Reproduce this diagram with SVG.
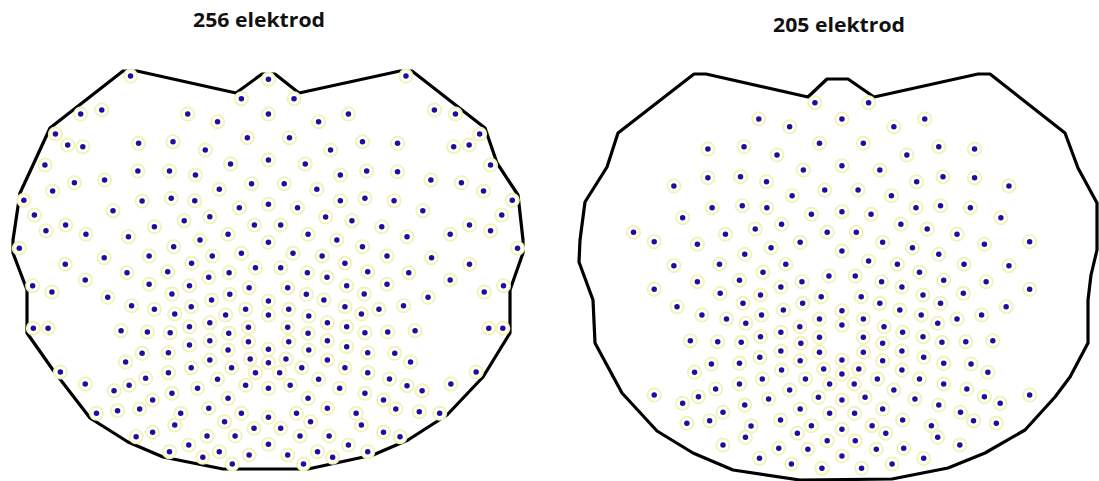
<svg xmlns="http://www.w3.org/2000/svg" xmlns:xlink="http://www.w3.org/1999/xlink" width="1099" height="481" viewBox="0 0 1099 481">
<style>
.t{font-family:"Open Sans","Liberation Sans",sans-serif;font-weight:bold;font-size:20px;fill:#111}
.o{fill:none;stroke:#000;stroke-width:3.2;stroke-linejoin:round}
.h{fill:#fefef2;stroke:#f1f1bd;stroke-width:5}
.b{fill:#1c0ea0}
</style>
<defs>
<g id="e"><ellipse rx="19" ry="20" class="h"/><ellipse rx="7.8" ry="8.2" class="b"/></g>
</defs>
<rect width="1099" height="481" fill="#fff"/>
<text class="t" x="193" y="26.5" textLength="132" lengthAdjust="spacingAndGlyphs">256 elektrod</text>
<text class="t" x="773" y="31.5" textLength="132" lengthAdjust="spacingAndGlyphs">205 elektrod</text>
<polygon id="outline-256" class="o" points="123,71 137,71 236,93 262,74 275,74 299,93 400,71 412,71 485,128 497,163 518,195 523,240 523,253 510,290 510,333 483,377 447,415 408,440 373,455 308,469 223,469 163,457 128,442 90,418 53,370 27,333 27,290 13,253 13,240 20,193 33,165 50,128"/>
<polygon id="outline-205" class="o" points="694,74 706,74 808,97 827,79 848,79 874,97 978,74 990,74 1065,133 1078,168 1097,203 1097,250 1091,275 1088,300 1088,343 1070,377 1055,397 1025,430 985,453 948,468 892,479 800,480 733,470 693,453 657,431 622,393 595,343 593,300 579,262 580,240 585,202 607,167 618,133"/>
<g id="electrodes-256" transform="scale(0.35088 0.33333)">
<use href="#e" x="372" y="228"/><use href="#e" x="765" y="238"/><use href="#e" x="1157" y="228"/>
<use href="#e" x="688" y="296"/><use href="#e" x="838" y="296"/>
<use href="#e" x="290" y="330"/><use href="#e" x="230" y="342"/><use href="#e" x="535" y="342"/><use href="#e" x="620" y="365"/><use href="#e" x="765" y="342"/><use href="#e" x="908" y="365"/><use href="#e" x="993" y="342"/><use href="#e" x="1238" y="330"/><use href="#e" x="1298" y="342"/>
<use href="#e" x="158" y="402"/><use href="#e" x="1367" y="402"/><use href="#e" x="193" y="435"/><use href="#e" x="236" y="440"/><use href="#e" x="395" y="430"/><use href="#e" x="493" y="425"/><use href="#e" x="585" y="450"/><use href="#e" x="705" y="413"/><use href="#e" x="825" y="413"/><use href="#e" x="942" y="450"/><use href="#e" x="1033" y="425"/><use href="#e" x="1133" y="430"/><use href="#e" x="1293" y="440"/><use href="#e" x="1337" y="435"/>
<use href="#e" x="128" y="495"/><use href="#e" x="1398" y="495"/><use href="#e" x="657" y="492"/><use href="#e" x="765" y="480"/><use href="#e" x="870" y="492"/><use href="#e" x="393" y="513"/><use href="#e" x="483" y="513"/><use href="#e" x="557" y="525"/><use href="#e" x="970" y="525"/><use href="#e" x="1045" y="513"/><use href="#e" x="1133" y="515"/>
<use href="#e" x="212" y="548"/><use href="#e" x="298" y="540"/><use href="#e" x="150" y="573"/><use href="#e" x="717" y="551"/><use href="#e" x="810" y="551"/><use href="#e" x="625" y="568"/><use href="#e" x="903" y="568"/><use href="#e" x="1228" y="540"/><use href="#e" x="1315" y="548"/><use href="#e" x="1378" y="573"/>
<use href="#e" x="68" y="601"/><use href="#e" x="1460" y="601"/><use href="#e" x="405" y="603"/><use href="#e" x="488" y="595"/><use href="#e" x="555" y="602"/><use href="#e" x="682" y="623"/><use href="#e" x="765" y="613"/><use href="#e" x="848" y="623"/><use href="#e" x="970" y="602"/><use href="#e" x="1040" y="595"/><use href="#e" x="1123" y="602"/><use href="#e" x="322" y="632"/><use href="#e" x="1205" y="632"/><use href="#e" x="98" y="645"/><use href="#e" x="1430" y="645"/><use href="#e" x="598" y="650"/>
<use href="#e" x="187" y="675"/><use href="#e" x="131" y="692"/><use href="#e" x="245" y="703"/><use href="#e" x="525" y="662"/><use href="#e" x="440" y="680"/><use href="#e" x="725" y="675"/><use href="#e" x="800" y="675"/><use href="#e" x="928" y="651"/><use href="#e" x="1003" y="662"/><use href="#e" x="1088" y="680"/><use href="#e" x="1338" y="675"/><use href="#e" x="1398" y="692"/><use href="#e" x="1283" y="703"/><use href="#e" x="366" y="710"/><use href="#e" x="650" y="703"/><use href="#e" x="878" y="703"/><use href="#e" x="1160" y="710"/><use href="#e" x="570" y="720"/><use href="#e" x="960" y="720"/>
<use href="#e" x="55" y="745"/><use href="#e" x="1475" y="745"/><use href="#e" x="495" y="740"/><use href="#e" x="765" y="727"/><use href="#e" x="1033" y="740"/><use href="#e" x="297" y="773"/><use href="#e" x="425" y="768"/><use href="#e" x="605" y="768"/><use href="#e" x="688" y="760"/><use href="#e" x="835" y="760"/><use href="#e" x="918" y="768"/><use href="#e" x="1103" y="768"/><use href="#e" x="1230" y="773"/><use href="#e" x="546" y="790"/><use href="#e" x="983" y="790"/>
<use href="#e" x="186" y="793"/><use href="#e" x="1338" y="793"/><use href="#e" x="728" y="803"/><use href="#e" x="800" y="803"/><use href="#e" x="362" y="818"/><use href="#e" x="478" y="815"/><use href="#e" x="595" y="832"/><use href="#e" x="653" y="818"/><use href="#e" x="876" y="818"/><use href="#e" x="932" y="832"/><use href="#e" x="1048" y="815"/><use href="#e" x="1165" y="818"/><use href="#e" x="243" y="840"/><use href="#e" x="1283" y="840"/>
<use href="#e" x="93" y="857"/><use href="#e" x="148" y="876"/><use href="#e" x="1380" y="876"/><use href="#e" x="1435" y="857"/><use href="#e" x="425" y="853"/><use href="#e" x="540" y="857"/><use href="#e" x="710" y="863"/><use href="#e" x="820" y="863"/><use href="#e" x="988" y="857"/><use href="#e" x="1103" y="853"/><use href="#e" x="490" y="882"/><use href="#e" x="655" y="883"/><use href="#e" x="873" y="883"/><use href="#e" x="1038" y="882"/><use href="#e" x="307" y="892"/><use href="#e" x="1220" y="892"/><use href="#e" x="765" y="903"/><use href="#e" x="603" y="900"/><use href="#e" x="923" y="900"/>
<use href="#e" x="375" y="917"/><use href="#e" x="440" y="928"/><use href="#e" x="545" y="920"/><use href="#e" x="700" y="928"/><use href="#e" x="823" y="928"/><use href="#e" x="983" y="920"/><use href="#e" x="1080" y="928"/><use href="#e" x="1150" y="917"/><use href="#e" x="498" y="942"/><use href="#e" x="643" y="945"/><use href="#e" x="765" y="945"/><use href="#e" x="880" y="948"/><use href="#e" x="1030" y="942"/>
<use href="#e" x="598" y="968"/><use href="#e" x="708" y="982"/><use href="#e" x="820" y="982"/><use href="#e" x="933" y="968"/><use href="#e" x="540" y="980"/><use href="#e" x="988" y="980"/><use href="#e" x="345" y="992"/><use href="#e" x="420" y="996"/><use href="#e" x="485" y="998"/><use href="#e" x="1040" y="998"/><use href="#e" x="1105" y="996"/><use href="#e" x="1183" y="992"/><use href="#e" x="95" y="985"/><use href="#e" x="137" y="985"/><use href="#e" x="1393" y="985"/><use href="#e" x="1433" y="985"/><use href="#e" x="652" y="1000"/><use href="#e" x="878" y="1000"/>
<use href="#e" x="598" y="1022"/><use href="#e" x="708" y="1025"/><use href="#e" x="823" y="1025"/><use href="#e" x="933" y="1022"/><use href="#e" x="540" y="1035"/><use href="#e" x="988" y="1040"/><use href="#e" x="480" y="1058"/><use href="#e" x="650" y="1050"/><use href="#e" x="765" y="1048"/><use href="#e" x="880" y="1050"/><use href="#e" x="1048" y="1058"/><use href="#e" x="405" y="1060"/><use href="#e" x="1125" y="1060"/>
<use href="#e" x="358" y="1086"/><use href="#e" x="1170" y="1086"/><use href="#e" x="598" y="1080"/><use href="#e" x="713" y="1077"/><use href="#e" x="765" y="1088"/><use href="#e" x="815" y="1077"/><use href="#e" x="933" y="1080"/><use href="#e" x="545" y="1103"/><use href="#e" x="660" y="1103"/><use href="#e" x="860" y="1103"/><use href="#e" x="983" y="1103"/><use href="#e" x="480" y="1118"/><use href="#e" x="728" y="1118"/><use href="#e" x="797" y="1118"/><use href="#e" x="1048" y="1118"/><use href="#e" x="172" y="1116"/><use href="#e" x="1357" y="1116"/>
<use href="#e" x="415" y="1135"/><use href="#e" x="620" y="1138"/><use href="#e" x="908" y="1138"/><use href="#e" x="1110" y="1137"/><use href="#e" x="368" y="1156"/><use href="#e" x="243" y="1152"/><use href="#e" x="1160" y="1157"/><use href="#e" x="1285" y="1152"/><use href="#e" x="563" y="1165"/><use href="#e" x="700" y="1156"/><use href="#e" x="765" y="1165"/><use href="#e" x="827" y="1156"/><use href="#e" x="968" y="1165"/><use href="#e" x="325" y="1172"/><use href="#e" x="490" y="1180"/><use href="#e" x="1040" y="1180"/><use href="#e" x="1203" y="1172"/>
<use href="#e" x="435" y="1200"/><use href="#e" x="650" y="1195"/><use href="#e" x="878" y="1195"/><use href="#e" x="1093" y="1200"/><use href="#e" x="335" y="1232"/><use href="#e" x="398" y="1227"/><use href="#e" x="595" y="1225"/><use href="#e" x="933" y="1225"/><use href="#e" x="1128" y="1227"/><use href="#e" x="1195" y="1235"/><use href="#e" x="275" y="1240"/><use href="#e" x="1253" y="1240"/><use href="#e" x="515" y="1240"/><use href="#e" x="765" y="1252"/><use href="#e" x="688" y="1240"/><use href="#e" x="845" y="1240"/><use href="#e" x="1015" y="1240"/>
<use href="#e" x="498" y="1275"/><use href="#e" x="640" y="1265"/><use href="#e" x="885" y="1265"/><use href="#e" x="1030" y="1275"/><use href="#e" x="388" y="1310"/><use href="#e" x="435" y="1297"/><use href="#e" x="590" y="1308"/><use href="#e" x="670" y="1308"/><use href="#e" x="724" y="1285"/><use href="#e" x="800" y="1285"/><use href="#e" x="855" y="1308"/><use href="#e" x="938" y="1308"/><use href="#e" x="1093" y="1297"/><use href="#e" x="1140" y="1310"/>
<use href="#e" x="538" y="1335"/><use href="#e" x="765" y="1333"/><use href="#e" x="993" y="1335"/><use href="#e" x="483" y="1355"/><use href="#e" x="625" y="1355"/><use href="#e" x="710" y="1365"/><use href="#e" x="820" y="1365"/><use href="#e" x="905" y="1355"/><use href="#e" x="1048" y="1355"/><use href="#e" x="578" y="1372"/><use href="#e" x="948" y="1372"/><use href="#e" x="662" y="1392"/><use href="#e" x="865" y="1392"/>
</g>
<g id="electrodes-205" transform="translate(550 0) scale(0.35088 0.33333)">
<use href="#e" x="755" y="308"/><use href="#e" x="908" y="308"/>
<use href="#e" x="595" y="357"/><use href="#e" x="832" y="357"/><use href="#e" x="1068" y="357"/><use href="#e" x="683" y="380"/><use href="#e" x="980" y="380"/>
<use href="#e" x="768" y="430"/><use href="#e" x="893" y="430"/><use href="#e" x="450" y="447"/><use href="#e" x="553" y="440"/><use href="#e" x="1108" y="440"/><use href="#e" x="1210" y="447"/><use href="#e" x="647" y="465"/><use href="#e" x="1017" y="465"/>
<use href="#e" x="832" y="497"/><use href="#e" x="722" y="510"/><use href="#e" x="940" y="510"/><use href="#e" x="450" y="533"/><use href="#e" x="543" y="530"/><use href="#e" x="617" y="545"/><use href="#e" x="1045" y="545"/><use href="#e" x="1120" y="530"/><use href="#e" x="1210" y="533"/><use href="#e" x="353" y="558"/><use href="#e" x="1308" y="558"/>
<use href="#e" x="783" y="570"/><use href="#e" x="878" y="570"/><use href="#e" x="690" y="587"/><use href="#e" x="973" y="587"/>
<use href="#e" x="462" y="623"/><use href="#e" x="548" y="617"/><use href="#e" x="618" y="623"/><use href="#e" x="832" y="635"/><use href="#e" x="745" y="643"/><use href="#e" x="915" y="643"/><use href="#e" x="1043" y="623"/><use href="#e" x="1113" y="617"/><use href="#e" x="1198" y="623"/><use href="#e" x="378" y="653"/><use href="#e" x="1285" y="653"/>
<use href="#e" x="660" y="673"/><use href="#e" x="1000" y="673"/><use href="#e" x="585" y="687"/><use href="#e" x="1075" y="687"/><use href="#e" x="500" y="703"/><use href="#e" x="790" y="697"/><use href="#e" x="873" y="697"/><use href="#e" x="1160" y="703"/><use href="#e" x="238" y="697"/>
<use href="#e" x="297" y="725"/><use href="#e" x="420" y="733"/><use href="#e" x="713" y="727"/><use href="#e" x="948" y="727"/><use href="#e" x="1238" y="733"/><use href="#e" x="1367" y="725"/><use href="#e" x="630" y="743"/><use href="#e" x="1033" y="743"/><use href="#e" x="555" y="763"/><use href="#e" x="832" y="753"/><use href="#e" x="1108" y="763"/>
<use href="#e" x="353" y="797"/><use href="#e" x="483" y="793"/><use href="#e" x="672" y="793"/><use href="#e" x="908" y="783"/><use href="#e" x="990" y="793"/><use href="#e" x="1180" y="793"/><use href="#e" x="1308" y="797"/><use href="#e" x="607" y="817"/><use href="#e" x="1053" y="817"/>
<use href="#e" x="795" y="828"/><use href="#e" x="870" y="828"/><use href="#e" x="540" y="841"/><use href="#e" x="420" y="845"/><use href="#e" x="718" y="845"/><use href="#e" x="945" y="845"/><use href="#e" x="1122" y="841"/><use href="#e" x="1243" y="845"/><use href="#e" x="658" y="861"/><use href="#e" x="1003" y="861"/><use href="#e" x="297" y="868"/><use href="#e" x="1367" y="868"/><use href="#e" x="485" y="880"/><use href="#e" x="600" y="885"/><use href="#e" x="1063" y="885"/><use href="#e" x="1178" y="880"/><use href="#e" x="773" y="890"/><use href="#e" x="887" y="890"/>
<use href="#e" x="550" y="910"/><use href="#e" x="720" y="910"/><use href="#e" x="940" y="910"/><use href="#e" x="1113" y="910"/><use href="#e" x="362" y="920"/><use href="#e" x="1300" y="920"/><use href="#e" x="665" y="930"/><use href="#e" x="832" y="932"/><use href="#e" x="997" y="930"/><use href="#e" x="433" y="945"/><use href="#e" x="603" y="945"/><use href="#e" x="1058" y="945"/><use href="#e" x="1230" y="945"/><use href="#e" x="503" y="957"/><use href="#e" x="768" y="957"/><use href="#e" x="893" y="957"/><use href="#e" x="1160" y="957"/>
<use href="#e" x="558" y="970"/><use href="#e" x="712" y="980"/><use href="#e" x="832" y="975"/><use href="#e" x="952" y="980"/><use href="#e" x="1105" y="970"/><use href="#e" x="658" y="997"/><use href="#e" x="1005" y="997"/>
<use href="#e" x="600" y="1010"/><use href="#e" x="768" y="1012"/><use href="#e" x="893" y="1012"/><use href="#e" x="1063" y="1010"/><use href="#e" x="400" y="1022"/><use href="#e" x="478" y="1025"/><use href="#e" x="545" y="1027"/><use href="#e" x="715" y="1030"/><use href="#e" x="948" y="1030"/><use href="#e" x="1117" y="1027"/><use href="#e" x="1185" y="1025"/><use href="#e" x="1262" y="1022"/><use href="#e" x="658" y="1053"/><use href="#e" x="1003" y="1053"/>
<use href="#e" x="768" y="1057"/><use href="#e" x="893" y="1057"/><use href="#e" x="598" y="1072"/><use href="#e" x="1065" y="1072"/><use href="#e" x="460" y="1092"/><use href="#e" x="540" y="1090"/><use href="#e" x="713" y="1082"/><use href="#e" x="832" y="1080"/><use href="#e" x="948" y="1082"/><use href="#e" x="1122" y="1090"/><use href="#e" x="1200" y="1092"/><use href="#e" x="412" y="1117"/><use href="#e" x="1248" y="1117"/>
<use href="#e" x="660" y="1110"/><use href="#e" x="780" y="1107"/><use href="#e" x="880" y="1107"/><use href="#e" x="1003" y="1110"/><use href="#e" x="832" y="1122"/><use href="#e" x="605" y="1137"/><use href="#e" x="728" y="1137"/><use href="#e" x="933" y="1137"/><use href="#e" x="1053" y="1137"/><use href="#e" x="540" y="1152"/><use href="#e" x="1122" y="1152"/><use href="#e" x="797" y="1152"/><use href="#e" x="867" y="1152"/>
<use href="#e" x="472" y="1167"/><use href="#e" x="683" y="1170"/><use href="#e" x="980" y="1170"/><use href="#e" x="1188" y="1167"/><use href="#e" x="297" y="1185"/><use href="#e" x="1367" y="1185"/><use href="#e" x="423" y="1190"/><use href="#e" x="765" y="1192"/><use href="#e" x="832" y="1200"/><use href="#e" x="898" y="1192"/><use href="#e" x="623" y="1197"/><use href="#e" x="1040" y="1197"/><use href="#e" x="1238" y="1190"/><use href="#e" x="378" y="1210"/><use href="#e" x="1283" y="1210"/><use href="#e" x="555" y="1215"/><use href="#e" x="1108" y="1215"/>
<use href="#e" x="493" y="1237"/><use href="#e" x="713" y="1227"/><use href="#e" x="797" y="1240"/><use href="#e" x="868" y="1240"/><use href="#e" x="948" y="1227"/><use href="#e" x="1170" y="1237"/><use href="#e" x="390" y="1270"/><use href="#e" x="455" y="1262"/><use href="#e" x="657" y="1260"/><use href="#e" x="1005" y="1260"/><use href="#e" x="1207" y="1262"/><use href="#e" x="1272" y="1270"/><use href="#e" x="573" y="1278"/><use href="#e" x="745" y="1277"/><use href="#e" x="918" y="1277"/><use href="#e" x="1087" y="1277"/>
<use href="#e" x="832" y="1288"/><use href="#e" x="705" y="1300"/><use href="#e" x="957" y="1300"/><use href="#e" x="557" y="1312"/><use href="#e" x="1105" y="1312"/><use href="#e" x="790" y="1322"/><use href="#e" x="870" y="1322"/>
<use href="#e" x="493" y="1335"/><use href="#e" x="1168" y="1335"/><use href="#e" x="652" y="1345"/><use href="#e" x="735" y="1348"/><use href="#e" x="930" y="1348"/><use href="#e" x="1008" y="1345"/><use href="#e" x="597" y="1375"/><use href="#e" x="832" y="1368"/><use href="#e" x="1065" y="1375"/><use href="#e" x="688" y="1392"/><use href="#e" x="775" y="1405"/><use href="#e" x="888" y="1405"/><use href="#e" x="975" y="1392"/>
</g>
</svg>
